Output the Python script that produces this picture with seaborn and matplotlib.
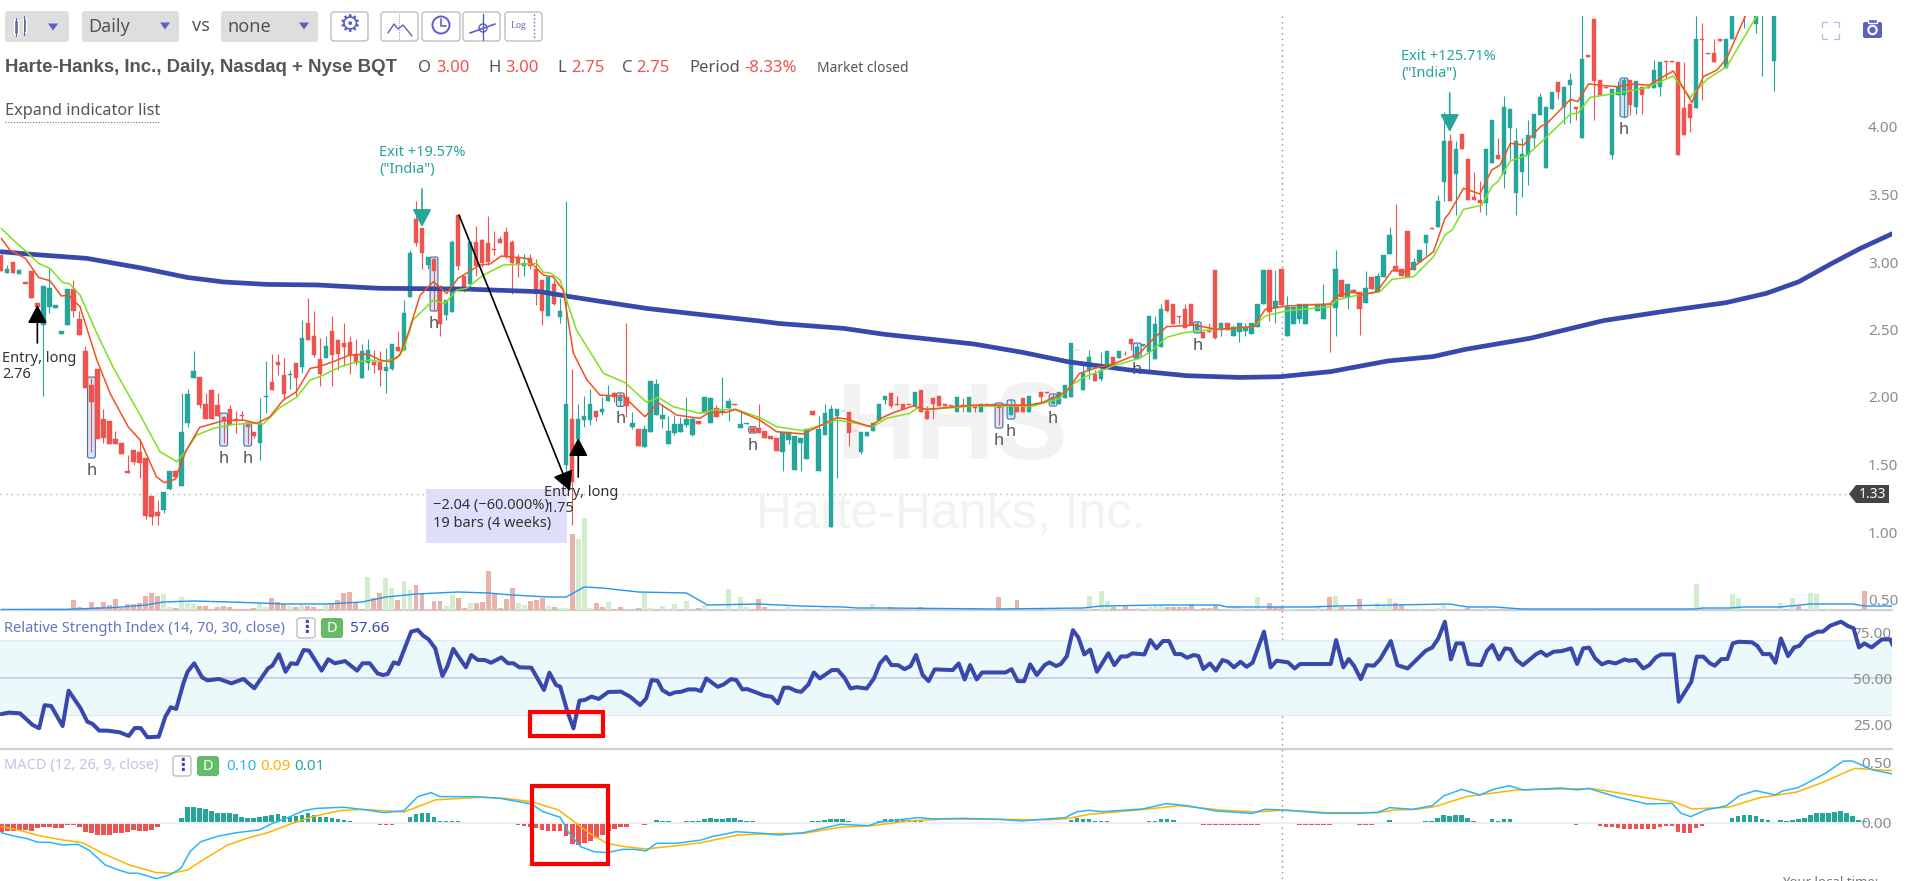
import numpy as np
import matplotlib
matplotlib.use('Agg')
import matplotlib.pyplot as plt
from matplotlib.patches import FancyBboxPatch, Rectangle, Circle, Polygon
import seaborn as sns

# =========== DATA =============
open_p = [3.05,2.92,3.00,2.91,2.85,2.93,2.70,2.53,2.67,2.66,
    2.47,2.53,2.80,2.58,2.34,2.09,2.21,1.84,1.82,1.69,
    1.66,1.45,1.61,1.59,1.55,1.27,1.15,1.16,1.32,1.45,
    1.34,1.81,2.14,2.15,1.95,2.05,1.94,1.85,1.91,1.84,
    1.87,1.80,1.74,1.66,2.00,2.11,2.26,2.16,2.16,2.25,
    2.22,2.55,2.45,2.28,2.29,2.49,2.42,2.40,2.41,2.32,
    2.14,2.25,2.26,2.26,2.19,2.21,2.37,2.35,2.74,3.32,
    3.25,2.98,3.02,2.82,2.61,2.63,3.35,2.90,2.84,3.15,
    3.16,3.14,3.10,3.17,3.22,3.15,3.04,2.97,3.03,2.95,
    2.87,2.60,2.84,2.59,1.50,1.84,1.69,1.83,1.83,1.90,
    1.89,1.97,2.03,1.97,2.00,1.78,1.76,1.63,1.74,1.87,
    1.84,1.65,1.73,1.74,1.79,1.72,1.82,1.88,1.81,1.92,
    1.89,1.92,1.95,1.77,1.80,1.77,1.77,1.75,1.71,1.70,
    1.59,1.68,1.46,1.66,1.54,1.90,1.45,1.72,1.04,1.86,
    1.90,1.89,1.75,1.59,1.71,1.75,1.83,1.98,2.03,1.945,
    1.95,1.945,1.93,2.05,1.90,1.99,2.01,1.945,1.94,1.89,
    1.94,1.89,1.93,1.89,1.94,1.94,1.93,1.94,1.87,1.94,
    1.99,1.89,1.94,2.04,2.04,1.95,1.95,1.99,2.00,2.35,
    2.05,2.20,2.17,2.13,2.24,2.30,2.29,2.32,2.43,2.28,
    2.38,2.33,2.28,2.37,2.72,2.69,2.60,2.65,2.69,2.50,
    2.48,2.49,2.94,2.50,2.55,2.45,2.48,2.49,2.47,2.52,
    2.69,2.94,2.66,2.95,2.45,2.54,2.58,2.54,2.69,2.64,
    2.58,2.69,2.66,2.87,2.74,2.79,2.78,2.70,2.89,2.78,
    2.89,3.06,2.97,2.95,3.23,2.94,3.00,3.14,3.25,3.26,
    3.59,3.90,3.65,3.95,3.76,3.48,3.46,3.44,3.73,3.79,
    3.65,3.99,3.51,3.67,3.79,3.92,4.09,3.70,4.13,4.33,
    4.15,4.31,4.15,3.92,4.53,4.80,4.35,4.30,3.79,4.24,
    4.24,4.35,4.15,4.30,4.29,4.29,4.30,4.49,4.49,4.48,
    4.14,4.17,4.14,4.65,4.55,4.55,4.65,4.44,4.65,5.00,
    4.90,5.00,4.76,4.90,5.00,4.49]
high_p = [3.05,2.98,3.00,2.95,2.85,2.93,2.70,2.82,2.95,2.68,
    2.49,2.80,2.87,2.64,2.38,2.14,2.21,1.91,1.82,1.75,
    1.66,1.57,1.61,1.68,1.55,1.27,1.24,1.30,1.45,1.45,
    2.03,2.06,2.34,2.15,2.03,2.05,2.03,1.86,1.94,1.90,
    1.90,1.80,1.74,1.99,2.27,2.32,2.32,2.29,2.20,2.25,
    2.57,2.73,2.64,2.44,2.45,2.60,2.43,2.55,2.45,2.43,
    2.39,2.43,2.35,2.34,2.36,2.39,2.49,2.72,3.09,3.45,
    3.25,3.04,3.03,2.82,2.72,3.16,3.35,2.90,3.15,3.27,
    3.17,3.34,3.23,3.19,3.26,3.16,3.06,3.06,3.06,3.02,
    2.87,2.90,2.87,2.73,3.45,2.21,1.95,2.01,2.06,1.90,
    2.00,2.09,2.04,2.03,2.55,1.89,1.76,1.79,2.12,2.13,
    1.95,1.86,1.87,1.85,2.00,1.85,1.82,2.00,2.00,1.94,
    2.15,1.99,1.95,1.89,1.81,1.78,1.95,1.75,1.71,1.70,
    1.74,1.74,1.71,1.70,1.76,1.90,1.86,1.95,1.94,1.91,
    1.90,1.89,1.75,1.74,1.74,1.81,1.95,2.01,2.03,2.01,
    1.95,1.945,2.04,2.05,1.93,1.99,2.01,1.945,1.94,2.00,
    1.99,2.00,1.94,1.95,1.945,1.945,1.95,1.945,1.98,1.94,
    1.99,2.01,1.945,2.04,2.04,2.02,2.04,2.09,2.40,2.35,
    2.25,2.35,2.20,2.33,2.34,2.30,2.34,2.344,2.43,2.40,
    2.39,2.60,2.60,2.69,2.72,2.69,2.60,2.69,2.69,2.56,
    2.48,2.55,2.94,2.55,2.55,2.53,2.55,2.55,2.55,2.69,
    2.94,2.94,2.94,2.95,2.75,2.67,2.69,2.69,2.69,2.69,
    2.84,2.69,3.09,2.87,2.84,2.80,2.78,2.93,2.89,2.92,
    3.05,3.26,3.43,2.95,3.23,3.03,3.09,3.20,3.25,3.50,
    4.11,3.95,3.90,3.95,3.76,3.67,3.60,3.84,4.05,3.92,
    4.23,4.13,3.99,3.92,4.05,4.10,4.25,4.15,4.26,4.33,
    4.30,4.40,4.15,5.00,4.53,4.80,4.35,4.30,4.28,4.34,
    4.36,4.35,4.34,4.30,4.30,4.50,4.48,4.49,4.49,4.48,
    4.48,4.17,4.82,4.77,4.55,4.65,4.65,4.65,4.90,5.10,
    5.00,5.10,4.90,5.00,5.10,4.90]
low_p = [2.93,2.92,2.92,2.91,2.84,2.73,2.67,2.01,2.62,2.66,
    2.47,2.53,2.59,2.46,2.07,1.59,1.69,1.66,1.65,1.65,
    1.58,1.44,1.50,1.40,1.10,1.05,1.05,1.14,1.31,1.40,
    1.34,1.78,2.14,1.92,1.84,1.84,1.86,1.66,1.79,1.73,
    1.83,1.65,1.70,1.53,1.88,2.05,2.16,1.98,2.06,2.00,
    2.18,2.42,2.30,2.08,2.29,2.08,2.20,2.23,2.17,2.24,
    2.14,2.20,2.18,2.08,2.03,2.20,2.34,2.35,2.74,3.12,
    2.95,2.95,2.64,2.45,2.57,2.63,2.94,2.78,2.80,2.90,
    2.96,2.98,3.05,3.14,3.03,2.76,2.89,2.90,2.95,2.68,
    2.53,2.60,2.68,2.55,1.41,1.05,1.69,1.78,1.79,1.82,
    1.87,1.97,1.96,1.93,1.85,1.76,1.64,1.63,1.74,1.87,
    1.77,1.65,1.72,1.74,1.78,1.71,1.80,1.88,1.81,1.85,
    1.87,1.82,1.94,1.77,1.80,1.74,1.73,1.70,1.69,1.60,
    1.45,1.65,1.46,1.45,1.54,1.87,1.45,1.72,1.04,1.40,
    1.90,1.64,1.745,1.58,1.71,1.75,1.83,1.95,1.92,1.94,
    1.91,1.94,1.93,1.89,1.84,1.84,1.93,1.935,1.93,1.89,
    1.89,1.89,1.89,1.89,1.94,1.94,1.79,1.94,1.87,1.89,
    1.89,1.89,1.94,1.96,2.03,1.95,1.95,1.99,2.00,2.345,
    2.05,2.13,2.12,2.12,2.24,2.22,2.29,2.31,2.35,2.28,
    2.38,2.20,2.28,2.37,2.63,2.54,2.54,2.51,2.53,2.50,
    2.44,2.48,2.43,2.45,2.50,2.45,2.41,2.45,2.47,2.52,
    2.69,2.56,2.55,2.68,2.45,2.54,2.55,2.54,2.688,2.64,
    2.58,2.33,2.45,2.74,2.65,2.77,2.46,2.70,2.80,2.78,
    2.89,3.06,2.93,2.90,2.89,2.94,3.00,3.05,3.247,3.26,
    3.45,3.45,3.35,3.84,3.46,3.46,3.37,3.35,3.73,3.76,
    3.55,3.76,3.35,3.48,3.57,3.85,4.09,3.70,4.13,4.21,
    4.02,4.03,4.05,3.92,4.52,4.05,4.24,4.29,3.76,4.24,
    4.07,4.09,4.10,4.10,4.29,4.29,4.23,4.36,4.48,3.79,
    3.94,3.96,4.14,4.20,4.54,4.48,4.64,4.44,4.65,5.00,
    4.73,5.00,4.70,4.38,5.00,4.27]
close_p = [2.93,2.95,2.92,2.94,2.84,2.73,2.67,2.82,2.81,2.68,
    2.49,2.80,2.64,2.46,2.07,1.96,1.69,1.70,1.65,1.65,
    1.58,1.44,1.52,1.51,1.12,1.11,1.12,1.30,1.45,1.41,
    1.74,2.02,2.19,1.94,1.84,1.84,1.86,1.83,1.79,1.82,
    1.86,1.78,1.71,1.81,2.01,2.05,2.24,2.02,2.17,2.14,
    2.44,2.42,2.31,2.17,2.38,2.31,2.32,2.37,2.31,2.25,
    2.34,2.35,2.24,2.20,2.22,2.39,2.34,2.62,3.07,3.14,
    3.07,3.04,2.93,2.54,2.72,3.15,2.97,2.81,3.15,2.97,
    2.99,3.00,3.09,3.14,3.04,2.99,2.98,2.99,2.97,2.76,
    2.64,2.89,2.69,2.64,1.95,1.37,1.84,1.86,1.95,1.85,
    1.91,2.01,2.00,2.00,1.93,1.81,1.64,1.76,2.12,2.10,
    1.87,1.75,1.80,1.80,1.84,1.84,1.80,2.00,1.99,1.85,
    1.895,1.97,1.94,1.80,1.805,1.74,1.73,1.70,1.69,1.60,
    1.74,1.74,1.71,1.70,1.76,1.87,1.76,1.88,1.91,1.91,
    1.90,1.73,1.745,1.74,1.74,1.81,1.95,2.01,1.93,1.94,
    1.91,1.94,2.04,1.89,1.84,1.95,1.93,1.935,1.93,2.00,
    1.93,2.00,1.92,1.95,1.945,1.945,1.92,1.945,1.94,1.89,
    1.89,2.01,1.945,2.00,2.03,2.00,2.04,2.09,2.40,2.345,
    2.18,2.30,2.12,2.20,2.34,2.22,2.34,2.315,2.39,2.37,
    2.39,2.60,2.54,2.65,2.64,2.54,2.59,2.51,2.53,2.54,
    2.44,2.48,2.44,2.55,2.50,2.52,2.55,2.52,2.55,2.69,
    2.94,2.63,2.71,2.68,2.67,2.67,2.69,2.69,2.688,2.69,
    2.69,2.68,2.95,2.74,2.84,2.77,2.65,2.81,2.80,2.90,
    3.05,3.20,2.93,2.90,2.89,3.00,3.09,3.20,3.247,3.45,
    3.90,3.45,3.84,3.84,3.46,3.46,3.44,3.84,4.05,3.76,
    4.15,4.13,3.90,3.80,3.94,4.10,4.22,4.15,4.26,4.26,
    4.30,4.35,4.13,4.50,4.52,4.34,4.24,4.29,4.28,4.30,
    4.35,4.16,4.34,4.24,4.30,4.42,4.48,4.48,4.48,3.79,
    3.94,4.07,4.65,4.645,4.54,4.48,4.64,4.65,4.90,5.10,
    5.00,5.10,4.90,5.00,5.10,4.90]

ma_blue_x = [0,5.3,14.2,23.6,30.9,37,44.2,52.5,63,76.9,89.6,94,99,107.4,115.7,126.2,129.3,140.2,147,
    155,161.9,170,177.5,187.7,197.2,206,212.7,221.2,230.7,238.2,243.6,254.4,266.6,277.5,287,293.7,299.1,304.6,309.3,314.8]
ma_blue = [3.076,3.056,3.027,2.953,2.886,2.852,2.834,2.83,2.805,2.8,2.78,2.748,2.713,2.656,2.614,2.563,2.545,2.508,2.464,
    2.426,2.392,2.33,2.261,2.2,2.158,2.145,2.15,2.188,2.267,2.299,2.353,2.435,2.566,2.64,2.699,2.768,2.854,2.99,3.1,3.213]

ema_red_x = [0,1.4,4,6.2,8.1,10,11.2,13.1,15.9,18.1,21.1,23.1,25.8,27.1,28.9,30.8,33,36.9,40.3,42.5,44.7,46.9,49.1,51.4,52.8,55.2,58,61,
    63,64.7,66.3,67.7,69.7,71.9,74.1,76,79.6,81.3,83.2,87.4,90.2,91.8,93.5,95.2,97.4,99.6,103.5,107.1,109.3,112.4,116.2,117.9,120.7,122.1,
    126.2,129,133.4,139,140.6,144.5,146.7,148.4,151.7,153.9,161.7,171.1,173.3,177.2,179.4,182.8,185,189.4,
    191.2,193.9,198.4,202.3,208.4,210.3,213.9,221.1,222.2,225,226.1,228.9,231.4,233.9,236.1,238.3,240.2,240.9,243.3,246,248,249.4,
    251.1,253.3,256.1,257.2,261.1,262.3,264.1,266,268.8,271.6,274.1,278.2,281.3,283.2,285.5,287.1,290.2,300]
ema_red = [3.175,3.09,3.027,2.886,2.861,2.748,2.755,2.669,2.274,2.027,1.78,1.681,1.41,1.365,1.39,1.607,1.775,1.824,1.829,1.805,1.854,1.977,2.039,2.212,2.224,2.261,2.311,2.318,
    2.274,2.261,2.311,2.471,2.755,2.854,2.767,2.879,2.977,2.985,3.044,3.027,2.903,2.891,2.792,2.323,2.13,2.014,2.007,1.854,1.957,1.866,1.842,1.886,1.886,1.908,
    1.829,1.743,1.726,1.847,1.837,1.78,1.849,1.884,1.933,1.908,1.94,1.94,1.96,2.039,2.175,2.224,2.244,2.323,
    2.41,2.521,2.533,2.501,2.521,2.649,2.674,2.689,2.748,2.78,2.755,2.78,2.936,2.928,3.002,3.076,3.323,3.36,3.546,3.504,3.682,3.719,
    3.879,3.867,4.003,4.027,4.205,4.188,4.319,4.309,4.299,4.319,4.309,4.415,4.181,4.373,4.423,4.509,4.823,5.6]

ema_green_x = [0,2.3,4.2,6.2,8.1,10.2,11.4,13.1,15.9,18.7,23.1,26.4,29.2,30.8,32.5,35.3,38.6,42,43.6,46.4,49.1,51.4,53,56.4,58.6,61.3,
    63,65.8,66.9,68.5,71.9,73.8,75.8,77.4,80.2,83.5,89.1,90.2,91.3,93,94.6,95.7,100.2,103.8,107.4,109.3,111.8,116.2,118.5,122.3,
    126.2,129,133.4,139,142.3,145,147.3,151.2,152.3,154.5,161.7,171.7,176.1,178.1,180.3,183.4,185,189.4,
    191.2,193.9,196.7,200.6,208.4,210.3,213.9,221.1,222.2,225,229.4,231.4,235,238.3,240.2,241.4,243.3,246.3,248,249,
    251.1,253.8,256.6,261.1,262.3,264.4,268.8,273.8,278.2,281,283.8,287.1,292.1,300]
ema_green = [3.249,3.15,3.076,2.99,2.953,2.849,2.837,2.755,2.471,2.212,1.866,1.595,1.521,1.607,1.718,1.768,1.797,1.805,1.8,1.923,1.997,2.126,2.15,2.224,2.254,2.274,
    2.261,2.286,2.348,2.57,2.718,2.693,2.792,2.805,2.903,2.977,2.99,2.923,2.92,2.866,2.644,2.496,2.175,2.106,1.96,1.997,1.928,1.879,1.903,1.908,
    1.847,1.78,1.75,1.829,1.805,1.78,1.842,1.879,1.916,1.908,1.933,1.933,1.99,2.089,2.15,2.2,2.232,2.286,
    2.335,2.442,2.476,2.496,2.521,2.6,2.639,2.669,2.718,2.748,2.78,2.871,2.891,3.039,3.2,3.237,3.39,3.42,3.558,3.595,
    3.75,3.788,3.904,4.097,4.102,4.22,4.25,4.292,4.378,4.22,4.353,4.447,4.823,5.5]

vol_red_x = [6,12,13,14,15,16,17,18,19,20,21,22,23,24,25,26,29,33,34,35,36,37,38,39,40,41,42,45,46,47,49,51,52,53,55,56,57,58,59,60,
    62,63,66,69,70,72,73,76,77,79,80,81,82,83,84,85,88,89,90,92,95,99,100,102,103,106,116,119,126,127,128,148,149,150,153,154,
    162,166,169,173,182,185,187,188,194,195,196,197,198,200,201,202,211,212,213,221,223,226,232,233,241,244,265,283,297,299,310]
vol_red = [1,10,3,2,8,3,8,5,11,2,6,6,7,14,17,14,2,4,4,1,3,4,3,1,1,1,2,12,8,6,3,4,3,1,6,10,17,18,8,1,
    12,17,10,25,17,9,9,12,2,7,8,39,17,2,11,22,9,10,12,3,76,7,3,1,3,2,2,1,11,3,1,3,1,1,3,2,
    2,13,10,2,1,3,5,1,3,3,3,3,6,2,2,5,7,3,3,13,3,11,7,5,1,2,1,1,1,4,19]
vol_green_x = [27,28,30,31,32,43,44,48,50,54,61,64,65,67,68,74,75,78,86,87,91,93,94,96,97,98,101,107,108,110,111,112,114,117,121,123,124,
    131,133,137,138,145,168,171,177,181,183,184,189,191,192,193,205,206,209,214,215,219,222,224,227,229,230,231,236,239,240,247,
    282,288,289,296,298,301,302,304]
vol_green = [16,3,13,7,6,7,3,4,5,5,33,32,22,29,20,4,15,7,7,5,4,2,2,71,92,2,8,17,2,4,1,6,9,5,21,13,3,
    3,1,3,2,6,2,2,2,14,19,9,2,3,4,5,4,4,13,1,1,3,14,2,1,7,5,12,1,2,5,3,
    26,16,12,7,12,17,16,1]
vol_avg_x = [0,11,19,24,27,32,38,43,47,54,60,64,69,76,81,85,91,94,97,100,106,114,117.5,126,133,140,142.5,147,166,180,183,193,
    202.5,204,210,218,222,241,244,248.5,253,282,283,287.5,290,296,301,308,310,314.6]
vol_avg = [0.5,0.7,2.5,5,8,9,8,7,6,6,8,13,16,18,17,15,13,13,23,22,18,17,5,6,4,3,2,2,1,2,4,5,
    5,3,3,3,4,6,3,3,1,1,2,2,3,3,6,6,4,4]

rsi_x = [0,1.3,3.1,5.2,6.3,7.2,8.3,10.2,11.2,13.2,14.3,15.2,16.3,17.6,19.7,21.2,22.2,23.2,24.3,26.2,27.3,28.2,29.1,30.3,31,32.1,33.4,34.3,36.2,38.3,40.3,42.1,
    44.4,45.1,46.2,47.3,48.2,49.2,50.3,51.2,53.3,54.4,55.5,57.2,59.2,60.1,61.3,62.6,63.5,64.3,65.3,66.1,68.2,69.3,70.2,71.1,72.2,73.4,74.2,75.2,77.3,78.2,79.3,80.4,81.5,83.2,84.3,85.2,86.2,88.2,
    90.3,91.2,92.3,93,94.2,95.2,96.2,97.1,98.2,99.4,101,103.1,104.6,106.3,107.3,108.2,109.2,110,111.2,112.1,113.1,114.3,115.5,116.4,117.3,119.2,120.2,121.4,122.3,123.3,124.1,125.3,127,128.2,129.2,130.2,131.1,132.3,133.1,134.3,135.2,136.2,137.6,138.2,139.2,140.3,141.3,142.3,144,145.2,146.2,147.2,148.1,149.2,150.3,151.3,152.2,153.3,154.3,155.3,158.3,159.3,160.3,161.2,162.3,163.2,167.1,168.1,169.1,170.2,171.2,172.3,173.6,174.4,175.5,176.3,177.3,178.3,179.2,180.2,181.2,182.3,184.2,185.2,186.3,187.3,188.2,190.2,191.2,192.2,193.3,194.3,195.3,196.3,197.3,198.4,199.2,
    200,201.1,202.1,203.2,204.1,205.1,206.2,207.2,208.2,210.1,211.2,212.2,214.1,215.2,216.1,221.2,222.1,223.3,224.2,225.1,226.2,227.2,228.4,229.4,231.2,232.3,234,237,238.1,239.1,240.2,241.2,242.1,243.2,244.1,246.2,247.2,248.1,249.2,250.2,251.1,252.1,253.2,255.4,256.2,257.1,258.3,259.6,261.2,262.2,263.2,264.2,265.2,266.3,267.4,268.6,270.1,270.8,272,273.2,274.2,275.3,276.2,278.3,279.1,281.2,282.1,283.2,284.3,285.1,286.2,287.2,288.1,289,291.3,292.2,293.1,294.3,295.2,296.1,297.3,298.3,299.2,300.3,302.2,303.1,304.3,306.1,307.3,308.2,309.1,310,311.2,312.9,314.3,314.7]
rsi = [30.4,31.2,30.8,24.5,22.7,35.2,34.8,23.9,43.1,33.5,26.3,25,21.4,21.4,20.5,18.5,22.8,22.8,17.8,18.1,29,34.1,33.2,47.1,53.4,58,50.4,48.7,49.5,47.1,49.5,44.4,
    55.3,56.7,62.9,53.4,58,57.6,65.2,64.9,54,60.2,58,59.2,54,58,58,52.5,51.6,52.2,58.5,57.6,75.2,76.1,73,71,66.1,51.1,56.2,65.8,55.8,62.5,59.8,59.8,58.3,61.2,58,58,55.8,55.6,
    43.5,52.9,46.2,45.3,31.7,22.6,37.7,38.1,39.9,38.6,42.4,42.6,39.9,35.3,38.9,48.9,48.5,43.4,41.1,42.2,42.5,43.8,43.8,42.9,49.8,45.2,46.5,49.4,48.9,43.8,44,42.5,40.4,39.8,36.2,44.7,44.7,42.9,42.5,46.5,53,49.8,53,54.3,54.3,50.1,44.3,45,44.3,49.8,57.9,61.5,57,57,54.8,56.5,62.5,51.6,48.3,54.7,54.3,57.9,49.2,57,49.2,53,53,54.8,48.3,48.3,57.4,51.6,57,58.5,56.5,57.6,61.9,76,72.1,62.8,65.5,53.4,63.4,57,61.7,61.7,63.4,62.8,70.6,66.1,70.1,70.1,63,63,61,62.5,61.9,
    54.9,57.9,54,59.8,58.8,55.8,58.8,56.1,58.3,75.2,55.8,59.4,58.5,55.2,57.6,57.6,70.6,55.8,60.3,56.5,49.4,57,56.7,60.1,70.1,57,55.2,64.8,66.6,71.5,80.6,60.1,68.8,68.8,57.6,57,64.8,67.9,60.1,66.1,65.7,59.8,57,63,64.3,62.1,64.3,64.6,66.1,57.6,66.1,66.5,60.7,57.4,58.8,57.9,60.1,59.4,59.8,55.2,57,61.2,62.8,62.8,37.1,48,61.6,61.6,58,56.7,60.3,60.3,68.8,69.7,69.4,67.4,63,63,58.3,71.5,61.9,66.6,67.5,72.1,75.2,75.2,78.4,80.6,78.2,77,66.6,68.8,66.6,71,71,67.9]

macd_x = [0,2,4.3,6.1,8,10.2,12.8,14.7,17.3,19.5,21.3,22.8,25.8,28,29.9,31.4,33.2,36.2,39.2,42.9,45.1,47.4,50.3,52.5,57,60.7,63.7,67,69.3,71.5,73,74.8,78.6,83,88.2,90.1,93,94.5,96.4,98.6,100.8,103.4,105.3,
    107.3,109,112.4,116.5,118.2,120.2,122.3,126.7,129.4,133.5,136.2,139.6,144.3,146,152.5,155.2,160,166.1,169.8,177,179,181,183.1,189.9,193.9,197.3,202.1,208.2,210.2,212.8,
    220.5,225.8,229.1,231,234.8,238.1,240,243,246,248.3,250.9,253.2,259.6,262.2,264.1,268.6,273.8,278,279.5,281.1,283.6,287,289.2,291.9,295.2,296.4,299,303.5,306.5,308,311.4,314.7]
macd = [-0.08,-0.106,-0.128,-0.158,-0.158,-0.18,-0.175,-0.227,-0.344,-0.385,-0.412,-0.412,-0.456,-0.426,-0.371,-0.235,-0.153,-0.106,-0.079,-0.057,-0.003,0.038,0.101,0.12,0.129,0.107,0.085,0.101,0.216,0.249,0.216,0.216,0.216,0.202,0.156,0.093,0.047,-0.085,-0.194,-0.235,-0.243,-0.216,-0.216,
    -0.229,-0.166,-0.166,-0.139,-0.112,-0.093,-0.071,-0.085,-0.098,-0.079,-0.049,-0.011,-0.022,0.006,0.044,0.033,0.038,0.03,0.017,0.044,0.093,0.104,0.093,0.115,0.159,0.142,0.099,0.079,0.112,0.107,
    0.079,0.079,0.088,0.126,0.112,0.142,0.222,0.276,0.23,0.276,0.306,0.271,0.287,0.271,0.284,0.216,0.156,0.161,0.079,0.052,0.107,0.14,0.224,0.265,0.23,0.263,0.29,0.407,0.508,0.508,0.435,0.402]
signal_x = [0,2.8,6.5,10.2,13.5,16.9,21.3,25.8,28.4,31,34,37.7,41.4,44.4,48.1,51.8,56.3,60,63.7,67,69.6,72.2,76.3,80,83.8,88.2,92.7,95.3,97.9,100.8,103.8,107.2,
    112.4,116.5,122.6,128.7,133.5,139.6,145,151.1,157.2,166.1,174.2,177,181,189.2,196,202.8,208.9,213.7,220.5,229.1,231.8,235.5,238.5,243.8,252.1,259.6,264.8,274.6,278.3,281.3,287.4,292.6,298.6,302.4,308.4,314.7]
signal = [-0.03,-0.057,-0.106,-0.139,-0.161,-0.249,-0.344,-0.407,-0.412,-0.385,-0.289,-0.18,-0.117,-0.079,-0.008,0.052,0.101,0.112,0.101,0.09,0.139,0.189,0.202,0.211,0.202,0.175,0.107,0.011,-0.085,-0.167,-0.194,-0.213,
    -0.186,-0.161,-0.098,-0.087,-0.085,-0.035,-0.022,0.017,0.033,0.03,0.027,0.033,0.071,0.107,0.142,0.107,0.09,0.107,0.085,0.085,0.107,0.112,0.134,0.216,0.271,0.279,0.282,0.2,0.175,0.115,0.129,0.208,0.252,0.32,0.448,0.429]
macd_hist = [-0.071,-0.066,-0.066,-0.057,-0.057,-0.063,-0.044,-0.03,-0.03,-0.044,
    -0.044,-0.019,-0.019,-0.036,-0.071,-0.085,-0.098,-0.101,-0.098,-0.085,
    -0.085,-0.077,-0.057,-0.063,-0.063,-0.057,-0.03,0,0,0.011,
    0.038,0.128,0.128,0.12,0.112,0.101,0.085,0.079,0.079,0.074,
    0.052,0.038,0.038,0.052,0.057,0.066,0.071,0.057,0.052,0.057,
    0.066,0.079,0.066,0.052,0.052,0.038,0.03,0.025,0.014,0.008,
    0.008,0,-0.008,-0.016,-0.016,-0.014,-0.008,0.011,0.052,0.071,
    0.079,0.079,0.052,0.016,0.014,0.014,0.016,0,0,0.008,
    0.008,0,0,0,-0.008,-0.011,-0.016,-0.025,-0.03,-0.044,
    -0.057,-0.063,-0.066,-0.066,-0.107,-0.172,-0.18,-0.167,-0.145,-0.126,
    -0.098,-0.063,-0.052,-0.036,-0.03,-0.011,-0.011,-0.02,0,0.025,
    0.016,0.016,0.005,0.005,0.016,0.016,0.016,0.03,0.038,0.03,
    0.03,0.041,0.038,0.022,0.016,0.016,0.005,0,-0.005,-0.005,
    0,0,0,0.005,0.005,0.016,0.016,0.027,0.03,0.03,
    0.03,0.019,0.005,0.005,0,0.005,0.019,0.03,0.03,0.03,
    0.03,0.022,0.016,0.016,0.011,0.005,0.005,0.005,0,0.005,
    0,0,0,0,0,0,0,0,0,-0.008,
    -0.008,0,0,0,0,0.005,0.005,0.005,0.022,0.041,
    0.033,0.03,0.016,0.016,0.016,0.005,0.005,0.005,0.005,0.005,
    0.005,0.016,0.019,0.03,0.033,0.022,0.008,0,0,-0.005,
    -0.018,-0.018,-0.018,-0.018,-0.018,-0.018,-0.018,-0.018,-0.018,-0.018,
    0.005,0.005,0.005,0,0,0,-0.018,-0.018,-0.018,-0.018,
    -0.018,-0.018,0,0,0,0,-0.018,-0.018,-0.018,0,
    0.005,0.025,0.011,0.003,0,0,0.005,0.014,0.014,0.041,
    0.066,0.06,0.066,0.066,0.038,0.019,0.005,0.011,0.033,0.014,
    0.033,0.033,0.011,0,0,0,0.003,0.003,0.003,0.003,
    0.003,0.003,-0.014,0,0.005,0,-0.027,-0.036,-0.036,-0.044,
    -0.049,-0.049,-0.049,-0.049,-0.049,-0.049,-0.036,-0.027,-0.027,-0.077,
    -0.079,-0.079,-0.044,-0.022,0,0,0.003,0.005,0.038,0.06,
    0.066,0.066,0.055,0.033,0.025,0.005,0.025,0.014,0.025,0.033,
    0.041,0.068,0.079,0.079,0.082,0.087,0.096,0.082,0.06,0.027,
    0.014,0.005,0.005,0.003,0.003]

# candle, top of pill, bottom of pill
h_bars = [15,37,41,72,103,125,166,168,175,189,199,270]
h_tops = [2.148,1.881,1.807,3.037,2.03,1.78,1.956,1.978,2.022,2.40,2.556,4.363]
h_bottoms = [1.548,1.637,1.637,2.637,1.93,1.733,1.77,1.837,1.933,2.289,2.474,4.074]

price_ticks = [0.5,1.0,1.5,2.0,2.5,3.0,3.5,4.0]
rsi_ticks = [25,50,75]
macd_ticks = [0.0,0.5]

assert len(open_p) == len(high_p) == len(low_p) == len(close_p) == 296
assert len(macd_hist) == 315

# =========== COLOURS =============
TEAL = '#26a69a'
RED = '#ef5350'
INDIGO = '#3949ab'
PURPLE = '#5c5fc4'
TICK = '#8c8c8c'
GREY_TXT = '#555555'

sns.set_theme(style='white')
plt.rcParams['font.family'] = ['Noto Sans', 'DejaVu Sans']

W, H = 1908, 881
fig = plt.figure(figsize=(W/100, H/100), dpi=100, facecolor='white')
PLOT_R = 1892
xlim = (-1.3/6.01, (PLOT_R-1.3)/6.01)

def add_pane(top, bottom, z):
    a = fig.add_axes([0, 1-bottom/H, PLOT_R/W, (bottom-top)/H], zorder=z)
    a.patch.set_visible(False)
    a.set_axisbelow(False)
    for s in a.spines.values():
        s.set_visible(False)
    return a

bg = fig.add_axes([0, 0, 1, 1], zorder=0)
bg.set_xlim(0, W); bg.set_ylim(H, 0); bg.axis('off')

vol_ax = add_pane(16, 610, 1)
ax = add_pane(16, 610, 2)
rsi_ax = add_pane(612, 748, 2)
macd_ax = add_pane(751, 881, 2)

ov = fig.add_axes([0, 0, 1, 1], zorder=10)
ov.set_xlim(0, W); ov.set_ylim(H, 0); ov.axis('off'); ov.patch.set_visible(False)

# =========== BACKGROUND =============
bg.text(953, 431, 'HHS', fontsize=79, family='Liberation Sans', fontweight='bold', color='#f2f2f3', ha='center', va='center')
bg.text(951, 515, 'Harte-Hanks, Inc.', fontsize=36, family='Liberation Sans', color='#f2f2f3', ha='center', va='center')
bg.plot([0, 1852], [494, 494], color='#b0b0b0', lw=1, ls=(0, (1, 3)))
bg.plot([1282, 1282], [16, 881], color='#8a8a8a', lw=1, ls=(0, (1, 3)))
for y in (610, 749):
    bg.plot([0, PLOT_R], [y, y], color='#cfcfcf', lw=1.6)

# =========== VOLUME =============
vol_ax.bar(vol_red_x, vol_red, width=0.82, color='#e7b3ab', lw=0)
vol_ax.bar(vol_green_x, vol_green, width=0.82, color='#d2edcc', lw=0)
sns.lineplot(x=vol_avg_x, y=vol_avg, color='#2196f3', lw=1, estimator=None, legend=False, ax=vol_ax)
vol_ax.set_xlim(xlim); vol_ax.set_ylim(0, 594); vol_ax.axis('off')

# =========== PRICE =============
o, hi, lo, c = map(np.array, (open_p, high_p, low_p, close_p))
idx = np.arange(len(o))
up = c >= o
for b, t, bt in zip(h_bars, h_tops, h_bottoms):
    ax.add_patch(FancyBboxPatch((b-0.65, bt), 1.3, t-bt, boxstyle='round,pad=0,rounding_size=0.3',
                                mutation_aspect=0.05, fc='#d5e6f6', ec='#4a6a9f', lw=0.8, zorder=1))
    ax.annotate('h', (b, bt), xytext=(0, -9), textcoords='offset points', ha='center', va='center',
                fontsize=12, color=GREY_TXT)
ax.vlines(idx[up], lo[up], hi[up], color=TEAL, lw=0.8, zorder=2)
ax.vlines(idx[~up], lo[~up], hi[~up], color=RED, lw=0.8, zorder=2)
ax.bar(idx[up], (c-o)[up], bottom=o[up], width=0.72, color=TEAL, ec=TEAL, lw=0.3, zorder=2)
ax.bar(idx[~up], (o-c)[~up], bottom=c[~up], width=0.72, color=RED, ec=RED, lw=0.3, zorder=2)

sns.lineplot(x=ma_blue_x, y=ma_blue, color=INDIGO, lw=3.4, estimator=None, legend=False, ax=ax, zorder=3)
sns.lineplot(x=ema_green_x, y=ema_green, color='#7ee01f', lw=1.1, estimator=None, legend=False, ax=ax, zorder=4)
sns.lineplot(x=ema_red_x, y=ema_red, color='#f4511e', lw=1.1, estimator=None, legend=False, ax=ax, zorder=5)

ax.set_xlim(xlim)
ax.set_ylim(4-(610-127)/135, 4+(127-16)/135)
ax.set_xticks([])
ax.set_yticks(price_ticks)
ax.set_yticklabels([f'{t:.2f}' for t in price_ticks], ha='right')
ax.yaxis.tick_right()
ax.tick_params(axis='y', length=0, pad=4.5, labelsize=11, labelcolor=TICK)
ax.set_xlabel(''); ax.set_ylabel('')

def trade_arrow(x, y0, y1, col):
    ax.annotate('', xy=(x, y1), xytext=(x, y0), zorder=6,
                arrowprops=dict(arrowstyle='-|>,head_width=0.45,head_length=0.85', color=col, lw=1.2,
                                shrinkA=0, shrinkB=0, mutation_scale=13))

trade_arrow(6, 2.40, 2.681, 'black')
trade_arrow(96, 1.407, 1.696, 'black')
trade_arrow(70, 3.541, 3.259, TEAL)
trade_arrow(241, 4.252, 3.963, TEAL)

# =========== RSI =============
rsi_ax.axhspan(30, 70.6, color='#ecf9fb', lw=0)
rsi_ax.axhline(70.6, color='#e6e6f6', lw=1)
rsi_ax.axhline(30, color='#e6e6f6', lw=1)
rsi_ax.axhline(50, color='#cdc8ea', lw=1.3)
sns.lineplot(x=rsi_x, y=rsi, color=INDIGO, lw=2.9, estimator=None, legend=False, ax=rsi_ax, zorder=3)
rsi_ax.set_xlim(xlim)
rsi_ax.set_ylim(75-(748-632)/1.84, 75+(632-612)/1.84)
rsi_ax.set_xticks([])
rsi_ax.set_yticks(rsi_ticks)
rsi_ax.set_yticklabels([f'{t:.2f}' for t in rsi_ticks], ha='right')
rsi_ax.yaxis.tick_right()
rsi_ax.tick_params(axis='y', length=0, pad=0, labelsize=11, labelcolor=TICK)
rsi_ax.set_xlabel(''); rsi_ax.set_ylabel('')

# =========== MACD =============
macd_ax.axhline(0, color='#eeeef8', lw=1.4)
hist_v = np.array(macd_hist)
hist_i = np.arange(len(hist_v))
macd_ax.bar(hist_i[hist_v > 0], hist_v[hist_v > 0], width=0.75, color=TEAL, lw=0)
macd_ax.bar(hist_i[hist_v < 0], hist_v[hist_v < 0], width=0.75, color=RED, lw=0)
sns.lineplot(x=signal_x, y=signal, color='#ffb300', lw=1.1, estimator=None, legend=False, ax=macd_ax, zorder=3)
sns.lineplot(x=macd_x, y=macd, color='#29b6f6', lw=1.1, estimator=None, legend=False, ax=macd_ax, zorder=4)
macd_ax.set_xlim(xlim)
macd_ax.set_ylim(-(881-823)/122, (823-751)/122)
macd_ax.set_xticks([])
macd_ax.set_yticks(macd_ticks)
macd_ax.set_yticklabels([f'{t:.2f}' for t in macd_ticks], ha='right')
macd_ax.yaxis.tick_right()
macd_ax.tick_params(axis='y', length=0, pad=0, labelsize=11, labelcolor=TICK)
macd_ax.set_xlabel(''); macd_ax.set_ylabel('')

# =========== OVERLAY TEXT AND TOOLBAR =============
def label(x, y, s, size=11, color=GREY_TXT, **kw):
    return ov.text(x, y, s, fontsize=size, color=color, va='center', ha=kw.pop('ha', 'left'), **kw)

def box(x0, y0, x1, y1, fc, ec='none', r=3, lw=1):
    ov.add_patch(FancyBboxPatch((x0, y0), x1-x0, y1-y0, boxstyle=f'round,pad=0,rounding_size={r}',
                                fc=fc, ec=ec, lw=lw))

def tri(cx, cy, s=5):
    ov.add_patch(Polygon([(cx-s, cy-s*0.7), (cx+s, cy-s*0.7), (cx, cy+s*0.7)], fc=PURPLE, ec='none'))

box(5, 11, 69, 42, '#dedede'); tri(53, 27)
ov.add_patch(Rectangle((14, 20), 4, 14, fc='#5a6a9a')); ov.add_patch(Rectangle((23, 18), 3, 14, fc='#5a6a9a'))
ov.plot([16, 16], [18, 36], color='#5a6a9a', lw=0.8); ov.plot([24.5, 24.5], [16, 35], color='#5a6a9a', lw=0.8)
box(82, 11, 179, 42, '#dedede'); label(88, 27, 'Daily', 13); tri(165, 26)
label(192, 26, 'vs', 13)
box(221, 11, 318, 42, '#dedede'); label(228, 27, 'none', 13); tri(304, 26)
box(331, 12, 368, 41, 'white', '#bdbdbd')
label(349.5, 25, '\u2699', 18, PURPLE, ha='center', family='DejaVu Sans')
for x0, x1 in ((381, 418), (422, 460), (463, 500), (505, 542)):
    box(x0, 12, x1, 41, 'white', '#bdbdbd')
ov.plot([388, 394, 398, 403, 408, 412], [33, 24, 29, 25, 31, 36], color=PURPLE, lw=1)
ov.plot([399, 399], [14, 39], color=PURPLE, lw=0.6, ls=':')
ov.add_patch(Circle((441, 25), 8.5, fc='none', ec=PURPLE, lw=1.4))
ov.plot([441, 441, 446], [19, 26, 26], color=PURPLE, lw=1.2)
ov.plot([470, 495], [33, 24], color=PURPLE, lw=1.2); ov.plot([483, 483], [14, 40], color=PURPLE, lw=1)
ov.add_patch(Circle((483, 28), 4, fc='none', ec=PURPLE, lw=1))
label(511, 26, 'Log', 7, PURPLE, family='Liberation Serif')
ov.plot([534, 534], [14, 39], color=PURPLE, lw=1, ls=':')

label(5, 68, 'Harte-Hanks, Inc., Daily, Nasdaq + Nyse BQT', 13.4, family='Liberation Sans', fontweight='bold')
head = [(418, 'O', GREY_TXT), (436, '3.00', RED), (488, 'H', GREY_TXT), (505, '3.00', RED), (557, 'L', GREY_TXT),
        (571, '2.75', RED), (622, 'C', GREY_TXT), (636, '2.75', RED), (689, 'Period', GREY_TXT), (744, '-8.33%', RED)]
for x, s, col in head:
    label(x, 68, s, 12, col)
label(817, 69, 'Market closed', 10)
label(5, 111, 'Expand indicator list', 11.7)
ov.plot([5, 160], [122, 122], color='#777777', lw=0.8, ls=(0, (1, 1.5)))

label(379, 153, 'Exit +19.57%', 10.5, TEAL)
label(379, 170, '("India")', 10.5, TEAL)
label(1401, 57, 'Exit +125.71%', 10.5, TEAL)
label(1401, 74, '("India")', 10.5, TEAL)
label(2, 358, 'Entry, long', 10.5, '#333333')
label(2, 375, '2.76', 10.5, '#333333')

ov.add_patch(Rectangle((426, 489), 141, 54, fc='#dfdffb', ec='none'))
label(433, 505, '\u22122.04 (\u221260.000%)', 10.5, '#333333')
label(433, 523, '19 bars (4 weeks)', 10.5, '#333333')
label(544, 492, 'Entry, long', 10.5, '#333333')
label(546, 509, '1.75', 10.5, '#333333')
ov.annotate('', xy=(570, 491), xytext=(459, 215),
            arrowprops=dict(arrowstyle='-|>,head_width=0.45,head_length=0.85', color='black', lw=1.2,
                            shrinkA=0, shrinkB=0, mutation_scale=14))

label(4, 628, 'Relative Strength Index (14, 70, 30, close)', 10.5, '#6673c0')
box(297, 618, 315, 638, 'white', '#bdbdbd')
label(306, 627, '\u22ee', 12, INDIGO, ha='center', family='DejaVu Sans', fontweight='bold')
box(321, 618, 343, 638, '#66bb6a')
label(332, 628, 'D', 10.5, 'white', ha='center')
label(350, 628, '57.66', 11, INDIGO)

label(4, 766, 'MACD (12, 26, 9, close)', 10.5, '#c8bde6')
box(173, 756, 191, 776, 'white', '#bdbdbd')
label(182, 765, '\u22ee', 12, INDIGO, ha='center', family='DejaVu Sans', fontweight='bold')
box(197, 756, 219, 776, '#66bb6a')
label(208, 766, 'D', 10.5, 'white', ha='center')
label(226, 766, '0.10', 11, '#29b6f6')
label(260, 766, '0.09', 11, '#ffb300')
label(294, 766, '0.01', 11, TEAL)

for x0, y0, x1, y1 in ((530, 712, 603, 736), (532, 786, 608, 864)):
    ov.add_patch(Rectangle((x0, y0), x1-x0, y1-y0, fc='none', ec='#ff0000', lw=3))

# price flag on the crosshair
ov.add_patch(Polygon([(1849, 494), (1856, 485), (1889, 485), (1889, 503), (1856, 503)], fc='#444444', ec='none'))
label(1872, 494, '1.33', 10, 'white', ha='center')

# top right icons
for cx, cy, dx, dy in ((1822, 22, 1, 1), (1839, 22, -1, 1), (1822, 39, 1, -1), (1839, 39, -1, -1)):
    ov.plot([cx, cx, cx+5*dx], [cy+5*dy, cy, cy], color='#b8b8e8', lw=0.9)
box(1863, 22, 1882, 38, PURPLE, r=2)
ov.add_patch(Rectangle((1868, 19), 9, 4, fc=PURPLE))
ov.add_patch(Circle((1872.5, 30), 4.2, fc=PURPLE, ec='white', lw=1.5))

label(1782, 882, 'Your local time:', 9.5, '#777777')

fig.savefig('out.png', dpi=100)
